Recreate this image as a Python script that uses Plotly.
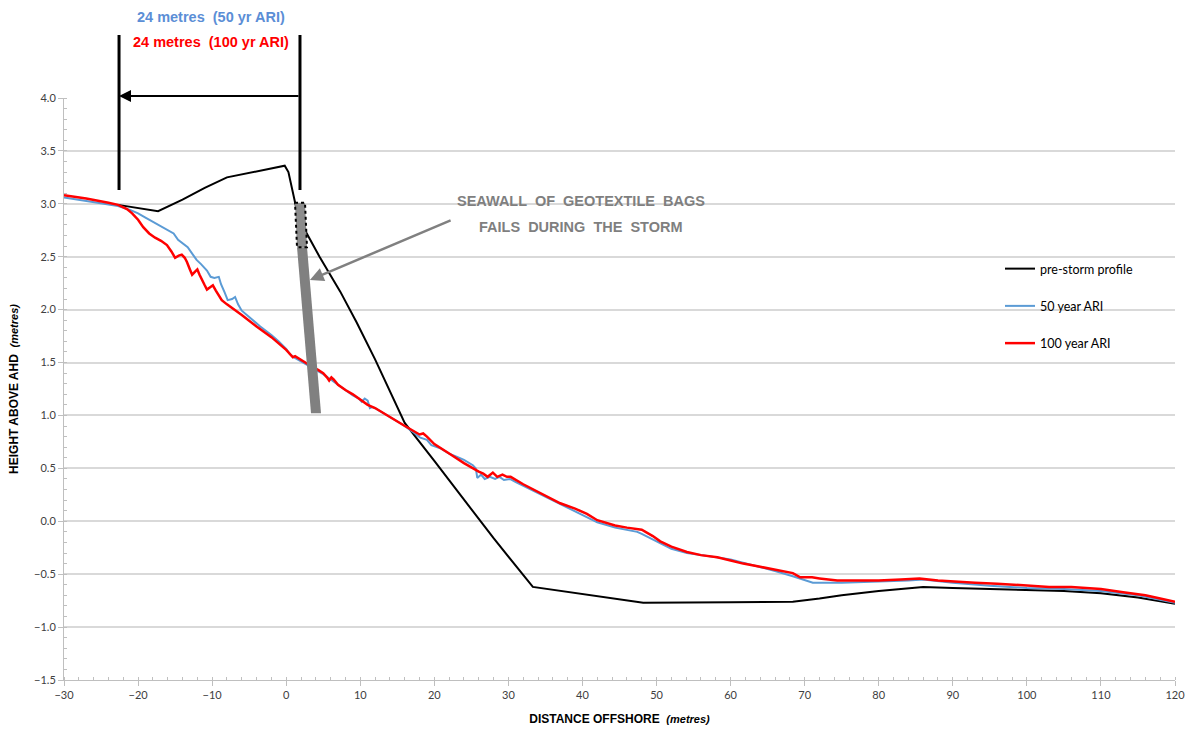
import plotly.graph_objects as go

# ---------------- data ----------------
pre_x = [-22.7, -20, -17.3, -14, -11, -8, -4, -1, -0.2, 0.3, 1.3, 2.3, 4.5, 7.3, 9.5, 12, 14, 16,
         20, 24, 28, 33.3, 40, 48.2, 60, 68.4, 72, 75, 80, 86, 90, 95, 100, 105, 110, 115, 120]
pre_y = [2.99, 2.96, 2.93, 3.04, 3.15, 3.25, 3.31, 3.35, 3.36, 3.30, 2.98, 2.78, 2.50, 2.17, 1.88,
         1.53, 1.23, 0.93, 0.57, 0.21, -0.16, -0.62, -0.69, -0.77, -0.765, -0.76, -0.73, -0.70,
         -0.66, -0.62, -0.63, -0.64, -0.65, -0.66, -0.68, -0.72, -0.78]

ari50_x = [-30, -27, -24, -22.7, -21, -20, -19, -18, -17, -16, -15.2, -14.6, -14, -13.3, -12.6,
           -12.1, -11.5, -10.7, -10.2, -9.7, -9.1, -8.8, -8.3, -7.9, -7.3, -6.9, -6.5, -6, -5,
           -3.5, -2, -1, 0, 0.5, 1, 2, 3, 4, 5, 6, 7, 8, 9, 9.8, 10.2, 10.6, 11.0, 11.3, 11.6,
           12, 14, 15.8, 17, 18.1, 19, 19.6, 20.8, 22, 23, 24, 25.2, 25.6, 25.8, 26.3, 26.8,
           27.5, 28.2, 28.8, 29.4, 30.2, 31, 33, 37, 40, 42, 44.4, 46, 47.4, 48, 50.5, 52, 54.1,
           56, 58.2, 60, 62.2, 64, 66, 68.4, 70, 71.1, 75, 80.2, 84, 86, 90, 95, 100, 105, 110,
           115, 120]
ari50_y = [3.06, 3.03, 3.00, 2.98, 2.94, 2.91, 2.87, 2.83, 2.79, 2.75, 2.72, 2.66, 2.63, 2.59, 2.52,
           2.47, 2.43, 2.37, 2.31, 2.30, 2.31, 2.24, 2.16, 2.09, 2.10, 2.12, 2.05, 1.99, 1.93,
           1.84, 1.76, 1.70, 1.63, 1.58, 1.55, 1.51, 1.47, 1.43, 1.39, 1.34, 1.29, 1.24, 1.19,
           1.16, 1.13, 1.16, 1.14, 1.07, 1.08, 1.07, 0.99, 0.91, 0.85, 0.79, 0.77, 0.72, 0.69,
           0.64, 0.61, 0.58, 0.53, 0.50, 0.41, 0.44, 0.40, 0.42, 0.40, 0.42, 0.39, 0.40, 0.37,
           0.30, 0.16, 0.06, -0.01, -0.06, -0.08, -0.10, -0.12, -0.21, -0.26, -0.30, -0.32,
           -0.34, -0.36, -0.40, -0.43, -0.47, -0.52, -0.56, -0.58, -0.58, -0.57, -0.56, -0.55,
           -0.58, -0.61, -0.63, -0.64, -0.66, -0.70, -0.77]

ari100_x = [-30, -27, -24, -22.7, -21.5, -20.8, -20, -19.3, -18.5, -17.7, -16.9, -16.1, -15.5,
            -15.0, -14.5, -14.1, -13.7, -13.4, -13, -12.7, -12.3, -12.0, -11.7, -11.4, -11,
            -10.7, -10.3, -9.9, -9.5, -9, -8.7, -8, -6, -4, -2, 0, 0.9, 1.2, 2.5, 3.5, 4.3,
            5.0, 5.5, 5.8, 6.1, 6.4, 7, 8, 9, 10, 11, 12, 14, 15.8, 18, 18.5, 19, 20, 22, 24,
            26, 26.6, 27.2, 27.9, 28.5, 29.2, 29.8, 30.3, 32, 35, 37, 39, 40.6, 42, 44.4, 46,
            47.4, 48, 49.5, 50.5, 52, 54.1, 56, 58.2, 60, 61.7, 64, 66, 68.4, 69.4, 71, 72,
            74.4, 77, 80, 83, 85.5, 88, 90, 93, 96, 98, 100, 103, 106, 108, 110, 113, 116,
            118, 120]
ari100_y = [3.08, 3.05, 3.01, 2.99, 2.95, 2.91, 2.85, 2.78, 2.72, 2.68, 2.65, 2.61, 2.55, 2.49,
            2.51, 2.52, 2.49, 2.45, 2.38, 2.33, 2.36, 2.38, 2.33, 2.28, 2.23, 2.19, 2.21, 2.23,
            2.18, 2.12, 2.09, 2.05, 1.95, 1.84, 1.74, 1.62, 1.55, 1.56, 1.50, 1.46, 1.43, 1.40,
            1.36, 1.33, 1.36, 1.34, 1.29, 1.24, 1.20, 1.15, 1.10, 1.07, 0.99, 0.91, 0.82, 0.83,
            0.80, 0.73, 0.64, 0.55, 0.47, 0.45, 0.42, 0.46, 0.42, 0.44, 0.42, 0.42, 0.35, 0.24,
            0.17, 0.12, 0.07, 0.01, -0.04, -0.06, -0.07, -0.08, -0.14, -0.19, -0.24, -0.29,
            -0.32, -0.34, -0.37, -0.40, -0.43, -0.46, -0.49, -0.53, -0.53, -0.54, -0.56, -0.56,
            -0.56, -0.55, -0.54, -0.56, -0.57, -0.58, -0.59, -0.60, -0.61, -0.62, -0.62, -0.63,
            -0.64, -0.67, -0.70, -0.73, -0.76]

series_names = ["pre-storm profile", "50 year ARI", "100 year ARI"]
x_range = [-30, 120]
y_range = [-1.5, 4.0]

# annotation geometry (data units)
retreat_left_x = -22.57
retreat_right_x = 1.86
seawall_bags_top = [(1.19, 3.01), (2.54, 3.01), (2.81, 2.59), (1.46, 2.59)]
seawall_bags_bottom = [(1.46, 2.59), (2.81, 2.59), (4.70, 1.02), (3.35, 1.02)]
pointer_tail = (22.4, 2.85)
pointer_head = (3.2, 2.28)

# ---------------- figure ----------------
W, H = 1187, 735
ML, MR, MT, MB = 64, 12, 98, 55
PW, PH = W - ML - MR, H - MT - MB


def px_to_paper_x(px):
    return (px - ML) / PW


def px_to_paper_y(py):
    return (H - MB - py) / PH


fig = go.Figure()
fig.add_trace(go.Scatter(x=pre_x, y=pre_y, mode="lines", name=series_names[0],
                         line=dict(color="#000000", width=2), legendgroup="a"))
fig.add_trace(go.Scatter(x=ari50_x, y=ari50_y, mode="lines", name=series_names[1],
                         line=dict(color="#5B9BD5", width=2), legendgroup="b"))
fig.add_trace(go.Scatter(x=ari100_x, y=ari100_y, mode="lines", name=series_names[2],
                         line=dict(color="#FF0000", width=2.5), legendgroup="c"))


def poly_path(pts):
    return "M " + " L ".join(f"{x},{y}" for x, y in pts) + " Z"


shapes = [
    # white box behind legend (hides gridlines)
    dict(type="rect", xref="paper", yref="paper", layer="between",
         x0=px_to_paper_x(960), x1=1.0, y0=px_to_paper_y(360), y1=px_to_paper_y(235),
         fillcolor="white", line=dict(width=0)),
    # white box behind the seawall caption (hides the 3.0 gridline)
    dict(type="rect", xref="paper", yref="paper", layer="between",
         x0=px_to_paper_x(432), x1=px_to_paper_x(730), y0=px_to_paper_y(212),
         y1=px_to_paper_y(192), fillcolor="white", line=dict(width=0)),
    # darker gridlines
    dict(type="line", xref="paper", yref="y", layer="between", x0=0, x1=px_to_paper_x(960),
         y0=2.0, y1=2.0, line=dict(color="#a6a6a6", width=1.2)),
    dict(type="line", xref="paper", yref="y", layer="between", x0=0, x1=1,
         y0=-1.0, y1=-1.0, line=dict(color="#a6a6a6", width=1.2)),
    # seawall
    dict(type="path", xref="x", yref="y", layer="above", path=poly_path(seawall_bags_bottom),
         fillcolor="#808080", line=dict(width=0)),
    dict(type="path", xref="x", yref="y", layer="above", path=poly_path(seawall_bags_top),
         fillcolor="#8c8c8c", line=dict(color="#000000", width=2, dash="dot")),
    # retreat markers
    dict(type="line", xref="x", yref="paper", x0=retreat_left_x, x1=retreat_left_x,
         y0=px_to_paper_y(190), y1=px_to_paper_y(35), line=dict(color="#000000", width=3)),
    dict(type="line", xref="x", yref="paper", x0=retreat_right_x, x1=retreat_right_x,
         y0=px_to_paper_y(190), y1=px_to_paper_y(35), line=dict(color="#000000", width=3)),
]

bold_font = "Liberation Sans, Arial, sans-serif"
annotations = [
    dict(xref="paper", yref="paper", x=px_to_paper_x(211), y=px_to_paper_y(17),
         xanchor="center", yanchor="middle",
         text="<b>24 metres  (50 yr ARI)</b>", showarrow=False,
         font=dict(family=bold_font, size=14.5, color="#5B8ED6")),
    dict(xref="paper", yref="paper", x=px_to_paper_x(211), y=px_to_paper_y(42),
         xanchor="center", yanchor="middle",
         text="<b>24 metres  (100 yr ARI)</b>", showarrow=False,
         font=dict(family=bold_font, size=14.5, color="#FF0000")),
    dict(xref="paper", yref="paper", x=px_to_paper_x(581), y=px_to_paper_y(201),
         xanchor="center", yanchor="middle",
         text="<b>SEAWALL  OF  GEOTEXTILE  BAGS</b>", showarrow=False,
         font=dict(family=bold_font, size=14.5, color="#7f7f7f")),
    dict(xref="paper", yref="paper", x=px_to_paper_x(581), y=px_to_paper_y(227),
         xanchor="center", yanchor="middle",
         text="<b>FAILS  DURING  THE  STORM</b>", showarrow=False,
         font=dict(family=bold_font, size=14.5, color="#7f7f7f")),
    # retreat arrow
    dict(xref="x", yref="paper", x=retreat_left_x, y=px_to_paper_y(96), axref="x",
         ayref="pixel", ax=retreat_right_x, ay=0, text="", showarrow=True, arrowhead=2,
         arrowsize=1.2, arrowwidth=2, arrowcolor="#000000"),
    # pointer to the seawall
    dict(xref="x", yref="y", x=pointer_head[0], y=pointer_head[1], axref="x", ayref="y",
         ax=pointer_tail[0], ay=pointer_tail[1], text="",
         showarrow=True, arrowhead=2, arrowsize=1.1, arrowwidth=2.5, arrowcolor="#808080"),
]

fig.update_layout(
    width=W, height=H,
    margin=dict(l=ML, r=MR, t=MT, b=MB, pad=0),
    paper_bgcolor="white", plot_bgcolor="white",
    shapes=shapes, annotations=annotations,
    legend=dict(x=px_to_paper_x(1000), y=px_to_paper_y(254), xanchor="left", yanchor="top",
                bgcolor="rgba(0,0,0,0)", font=dict(family="Lato, sans-serif", size=12.5,
                                                   color="#000000"),
                traceorder="grouped", tracegroupgap=18, itemwidth=30),
    showlegend=True,
)

fig.update_xaxes(
    range=x_range, dtick=10, tick0=0, showgrid=False, zeroline=False, automargin=False,
    showline=True, linecolor="#bfbfbf", linewidth=1,
    ticks="outside", ticklen=5, tickcolor="#bfbfbf",
    minor=dict(dtick=2, ticks="inside", ticklen=3, tickcolor="#bfbfbf", showgrid=False),
    tickfont=dict(family="Lato, sans-serif", size=11, color="#404040"),
    title=dict(text="<b>DISTANCE OFFSHORE</b>  <b><i><span style='font-size:11px'>(metres)</span></i></b>",
               font=dict(family=bold_font, size=12, color="#000000"), standoff=14),
)
fig.update_yaxes(
    range=y_range, dtick=0.5, tick0=0, tickformat=".1f", showgrid=True, automargin=False,
    gridcolor="#d9d9d9", gridwidth=2, zeroline=False,
    showline=True, linecolor="#bfbfbf", linewidth=1,
    ticks="outside", ticklen=5, tickcolor="#bfbfbf",
    minor=dict(dtick=0.1, ticks="inside", ticklen=3, tickcolor="#bfbfbf", showgrid=False),
    tickfont=dict(family="Lato, sans-serif", size=11, color="#404040"),
    title=dict(text="<b>HEIGHT ABOVE AHD</b>  <b><i><span style='font-size:11px'>(metres)</span></i></b>",
               font=dict(family=bold_font, size=12, color="#000000"), standoff=12),
)

fig.write_html("out.html")
